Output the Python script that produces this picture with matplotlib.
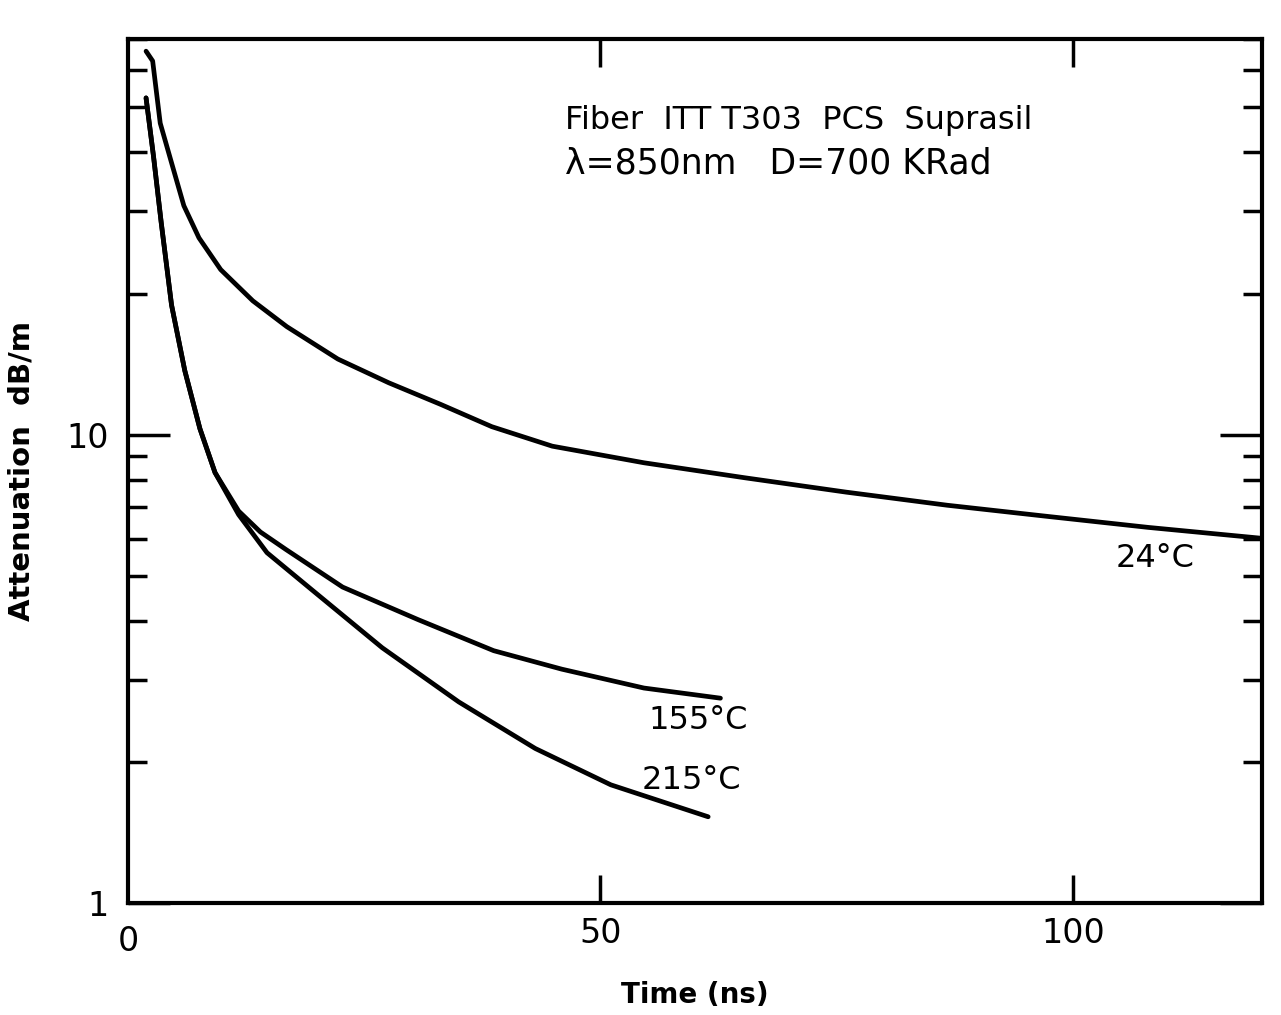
import numpy as np
import matplotlib.pyplot as plt
from matplotlib.ticker import LogLocator, NullFormatter, FixedLocator, FixedFormatter

# (time in ns, attenuation in dB/m)
t_24 = [1.9, 2.6, 3.4, 4.7, 5.9, 7.5, 9.8, 13.2, 16.8, 22.2, 27.6, 33.1, 38.5, 44.9,
        54.6, 65.3, 76.0, 86.7, 97.4, 108.0, 120.0]
a_24 = [65.8, 62.7, 46.2, 37.4, 30.8, 26.3, 22.5, 19.3, 17.0, 14.5, 12.9, 11.6, 10.4, 9.45,
        8.71, 8.09, 7.54, 7.07, 6.69, 6.34, 6.01]

# 155 C and 215 C share the same initial decay
t_shared = [1.9, 2.7, 3.5, 4.6, 6.0, 7.6, 9.2]
a_shared = [52.3, 39.1, 28.4, 18.9, 13.7, 10.3, 8.3]

t_155 = t_shared + [11.7, 14.0, 16.7, 22.7, 30.7, 38.7, 45.9, 54.6, 62.7]
a_155 = a_shared + [6.87, 6.2, 5.69, 4.73, 4.03, 3.46, 3.16, 2.88, 2.74]

t_215 = t_shared + [11.7, 14.7, 19.6, 26.9, 35.0, 43.1, 51.1, 61.4]
a_215 = a_shared + [6.75, 5.60, 4.64, 3.51, 2.69, 2.14, 1.79, 1.53]

x_ticks = [50, 100]
x_labels = ["50", "100"]

fig = plt.figure(figsize=(12.81, 10.15), dpi=100)
ax = fig.add_axes([0.1, 0.11, 0.885, 0.852])

lw = 3.4
for t, a in [(t_24, a_24), (t_155, a_155), (t_215, a_215)]:
    ax.plot(t, a, color="black", lw=lw, solid_capstyle="round", solid_joinstyle="round")

ax.set_yscale("log")
ax.set_xlim(0, 120)
ax.set_ylim(1, 70)

for s in ax.spines.values():
    s.set_linewidth(3)

ax.xaxis.set_major_locator(FixedLocator(x_ticks))
ax.xaxis.set_major_formatter(FixedFormatter(x_labels))
ax.yaxis.set_major_locator(FixedLocator([1, 10]))
ax.yaxis.set_major_formatter(FixedFormatter(["1", "10"]))
ax.yaxis.set_minor_locator(LogLocator(base=10, subs=np.arange(2, 10)))
ax.yaxis.set_minor_formatter(NullFormatter())

ax.tick_params(axis="x", which="major", direction="in", top=True, length=20, width=2.5,
               labelsize=24, pad=10)
ax.tick_params(axis="y", which="major", direction="in", right=True, length=30, width=2.5,
               labelsize=24, pad=14)
ax.tick_params(axis="y", which="minor", direction="in", right=True, length=14, width=2.5)

# "0" label at the origin
ax.text(0, -0.025, "0", transform=ax.get_xaxis_transform(), ha="center", va="top", fontsize=24)

ax.set_xlabel("Time (ns)", fontsize=20, fontweight="bold", labelpad=22)
ax.set_ylabel("Attenuation  dB/m", fontsize=21, fontweight="bold", labelpad=22)

ax.text(0.385, 0.905, "Fiber  ITT T303  PCS  Suprasil", transform=ax.transAxes,
        fontsize=23, va="center", ha="left")
ax.text(0.385, 0.855, "λ=850nm   D=700 KRad", transform=ax.transAxes,
        fontsize=25, va="center", ha="left")

ax.text(108.7, 5.45, "24°C", fontsize=23, ha="center", va="center")
ax.text(60.3, 2.45, "155°C", fontsize=23, ha="center", va="center")
ax.text(59.6, 1.83, "215°C", fontsize=23, ha="center", va="center")

plt.savefig("out.png", dpi=100)
